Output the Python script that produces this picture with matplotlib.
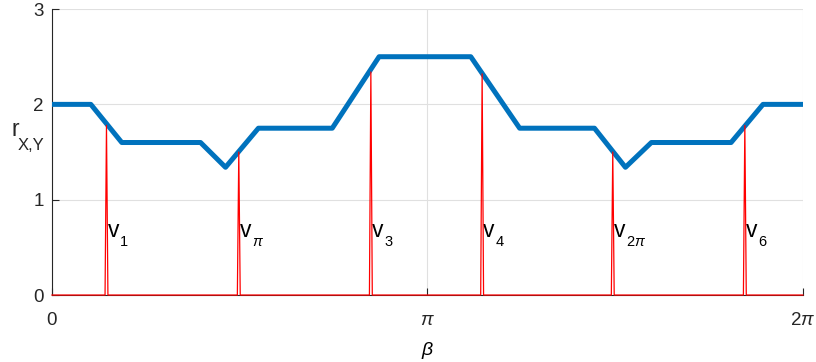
import numpy as np
import matplotlib.pyplot as plt

plt.rcParams['font.family'] = ['Liberation Sans', 'DejaVu Sans']
plt.rcParams['mathtext.fontset'] = 'custom'
plt.rcParams['mathtext.rm'] = 'Liberation Sans'
plt.rcParams['mathtext.it'] = 'Liberation Sans:italic'

# blue curve r_{X,Y}(beta), vertices
beta_pts = [0.0, 0.325, 0.584, 1.243, 1.452, 1.727, 2.345, 2.737,
            3.504, 3.913, 4.539, 4.798, 5.015, 5.682, 5.949, 2 * np.pi]
r_pts = [2.0, 2.0, 1.6, 1.6, 1.34, 1.75, 1.75, 2.5,
         2.5, 1.75, 1.75, 1.34, 1.6, 1.6, 2.0, 2.0]

# red spikes (position, height) and the subscripts of their labels
spike_pos = [0.456, 1.563, 2.668, 3.599, 4.692, 5.797]
spike_h = [1.78, 1.50, 2.34, 2.32, 1.50, 1.78]
spike_sub = ['1', r'$\pi$', '3', '4', r'$\mathregular{2}\pi$', '6']

half = 0.012
rx = [0.0]
ry = [0.0]
for p, h in zip(spike_pos, spike_h):
    rx += [p - half, p, p + half]
    ry += [0.0, h, 0.0]
rx.append(2 * np.pi)
ry.append(0.0)

fig = plt.figure(figsize=(8.16, 3.62), dpi=100)
ax = fig.add_axes([0.0637, 0.185, 0.9203, 0.79])

ax.plot(beta_pts, r_pts, color='#0072BD', lw=3.6, solid_capstyle='round', zorder=3)
ax.plot(rx, ry, color='red', lw=0.9, zorder=4, clip_on=False)

# "v" plus a lowered subscript, like MATLAB's tex labels
for p, sub in zip(spike_pos, spike_sub):
    ax.annotate('v', xy=(p, 0.61), xytext=(0.8, 0), textcoords='offset points',
                fontsize=16.5, ha='left', va='baseline')
    ax.annotate(sub, xy=(p, 0.61), xytext=(9.6, -6.3), textcoords='offset points',
                fontsize=10.5, ha='left', va='baseline')

ax.set_xlim(0, 2 * np.pi)
ax.set_ylim(0, 3)
ax.set_xticks([0, np.pi, 2 * np.pi])
ax.set_xticklabels(['0', r'$\pi$', r'$\mathregular{2}\pi$'])
ax.set_yticks([0, 1, 2, 3])
ax.tick_params(direction='in', labelsize=13.5, length=5, colors='#262626', pad=6)
ax.tick_params(axis='x', pad=12)
ax.grid(True, color='#e0e0e0', lw=0.8)
ax.set_axisbelow(True)
for s in ['top', 'right']:
    ax.spines[s].set_visible(False)
for s in ['left', 'bottom']:
    ax.spines[s].set_color('#262626')

ax.set_xlabel(r'$\beta$', fontsize=14, labelpad=8)

# y label r_{X,Y}, horizontal at the left
ytr = ax.get_yaxis_transform()
ax.text(-0.0533, 1.67, 'r', transform=ytr, fontsize=16.5, ha='left', va='baseline',
        color='#262626')
ax.text(-0.0453, 1.52, 'X,Y', transform=ytr, fontsize=12, ha='left', va='baseline',
        color='#262626')

fig.savefig('out.png', dpi=100)
